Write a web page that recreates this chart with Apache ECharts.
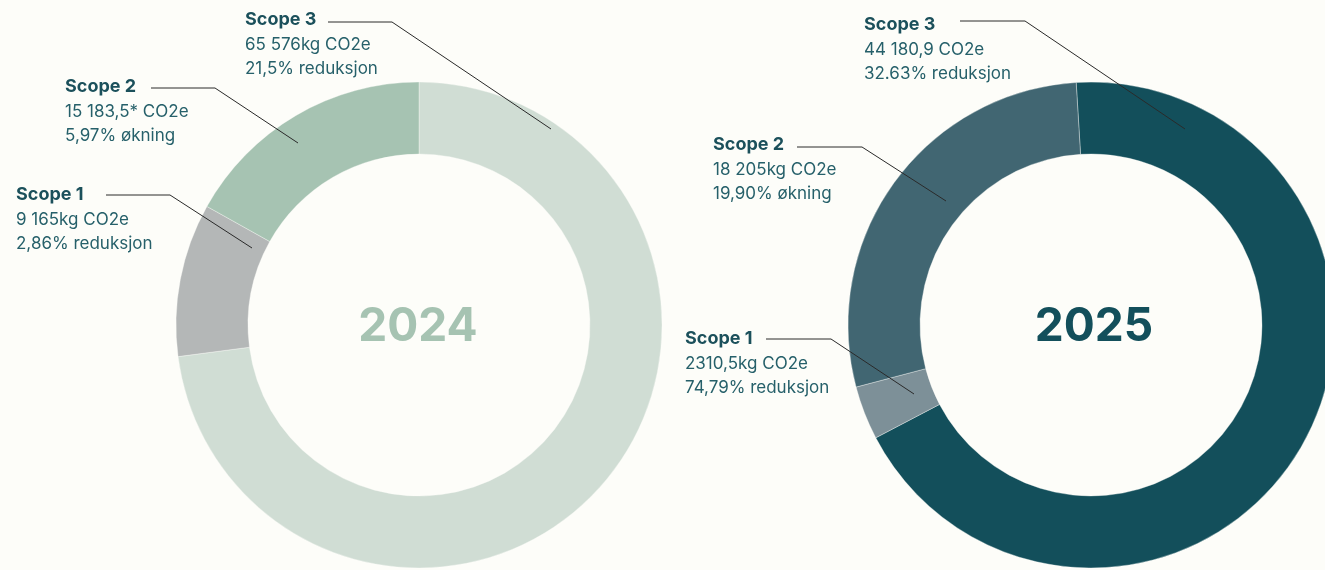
<!DOCTYPE html>
<html>
<head>
<meta charset="utf-8">
<script src="https://cdn.jsdelivr.net/npm/echarts@6/dist/echarts.min.js"></script>
<style>
html,body{margin:0;padding:0;background:#fdfdf9;}
#c{width:1325px;height:570px;}
</style>
</head>
<body>
<div id="c"></div>
<script>
// ---- data ----
const scopeNames = ['Scope 3', 'Scope 1', 'Scope 2'];          // clockwise order from top
const values2024 = [65576, 9165, 15183.5];
const values2025 = [44180.9, 2310.5, 18205];
const years = ['2024', '2025'];
const labelLines2024 = {
  'Scope 3': ['65 576kg CO2e', '21,5% reduksjon'],
  'Scope 2': ['15 183,5* CO2e', '5,97% økning'],
  'Scope 1': ['9 165kg CO2e', '2,86% reduksjon']
};
const labelLines2025 = {
  'Scope 3': ['44 180,9 CO2e', '32.63% reduksjon'],
  'Scope 2': ['18 205kg CO2e', '19,90% økning'],
  'Scope 1': ['2310,5kg CO2e', '74,79% reduksjon']
};
const colors2024 = ['#d0ddd4', '#b4b7b7', '#a6c3b2'];
const colors2025 = ['#134f5b', '#7d9098', '#416672'];

// annotation placement (text anchor + leader line)
const annot2024 = [
  {name:'Scope 3', x:245, y:20, line:[[328,22],[392,22],[551,129]]},
  {name:'Scope 2', x:65,  y:87, line:[[151,88],[215,88],[298,143]]},
  {name:'Scope 1', x:16,  y:195, line:[[106,195],[170,195],[252,248]]}
];
const annot2025 = [
  {name:'Scope 3', x:864, y:25, line:[[960,21],[1025,21],[1185,129]]},
  {name:'Scope 2', x:713, y:145, line:[[797,147],[862,147],[946,201]]},
  {name:'Scope 1', x:685, y:339, line:[[766,339],[831,339],[914,394]]}
];

const chart = echarts.init(document.getElementById('c'));
const FONT = 'Inter, "Noto Sans", sans-serif';

function pieSeries(vals, cols, center, startAngle) {
  return {
    type: 'pie',
    center: center,
    radius: [171, 243],
    startAngle: startAngle,
    clockwise: true,
    silent: true,
    animation: false,
    label: {show: false},
    labelLine: {show: false},
    itemStyle: {borderColor: 'rgba(253,253,249,0.35)', borderWidth: 1},
    data: scopeNames.map((n, i) => ({name: n, value: vals[i], itemStyle: {color: cols[i]}}))
  };
}

function annotGraphics(annots, lines) {
  const g = [];
  annots.forEach(a => {
    g.push({type:'polyline', silent:true, z:10,
      shape:{points:a.line}, style:{stroke:'#2a2a2a', lineWidth:1, fill:null}});
    g.push({type:'text', silent:true, z:10, x:a.x, y:a.y,
      style:{text:a.name, font:'bold 18px ' + FONT, fill:'#1b505b', verticalAlign:'middle', align:'left'}});
    lines[a.name].forEach((t, i) => {
      g.push({type:'text', silent:true, z:10, x:a.x, y:a.y + 24.5*(i+1),
        style:{text:t, font:'17px ' + FONT, fill:'#26606a', verticalAlign:'middle', align:'left'}});
    });
  });
  return g;
}

chart.setOption({
  backgroundColor: '#fdfdf9',
  animation: false,
  series: [
    pieSeries(values2024, colors2024, [419, 325], 90),
    pieSeries(values2025, colors2025, [1091, 325], 93.5)
  ],
  graphic: [
    {type:'text', silent:true, x:418, y:327, style:{text:years[0], font:'bold 46px ' + FONT, fill:'#a6c3b2', align:'center', verticalAlign:'middle'}},
    {type:'text', silent:true, x:1094, y:327, style:{text:years[1], font:'bold 46px ' + FONT, fill:'#134f5b', align:'center', verticalAlign:'middle'}}
  ].concat(annotGraphics(annot2024, labelLines2024), annotGraphics(annot2025, labelLines2025))
});
</script>
</body>
</html>
